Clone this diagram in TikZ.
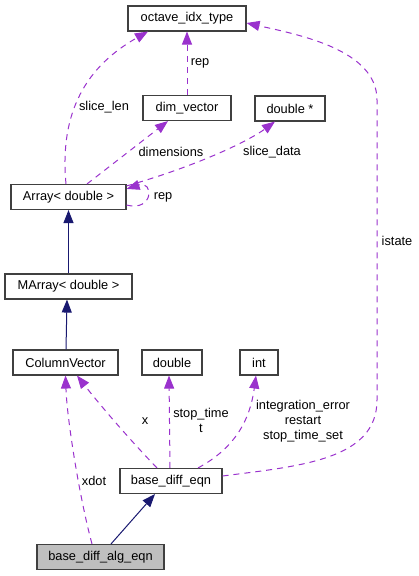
\documentclass[tikz,border=0pt]{standalone}
\usepackage{fontspec}
\setmainfont{Liberation Sans}
\usetikzlibrary{arrows.meta, calc}
\definecolor{doxyedge}{HTML}{9A32CD}
\definecolor{doxyinherit}{HTML}{191970}
\definecolor{doxyframe}{HTML}{404040}
\definecolor{doxyfocus}{HTML}{BFBFBF}

\begin{document}
\begin{tikzpicture}[x=1pt, y=-1pt,
  classbox/.style={draw=doxyframe, line width=1.1pt, fill=white, inner sep=0pt, minimum height=25pt, font=\fontsize{12.8}{15}\selectfont},
  usage/.style={draw=doxyedge, dash pattern=on 6pt off 5pt, line width=1pt, -{Triangle[length=13pt,width=10pt]}},
  inherit/.style={draw=doxyinherit, line width=1pt, -{Triangle[length=13pt,width=10pt]}},
  edgelabel/.style={inner sep=0pt, align=center, font=\fontsize{12.8}{15}\selectfont}]
\useasboundingbox (0,0) rectangle (419,576);

% classes
\node[classbox, minimum width=118pt] (octave) at (187,18.5) {octave\_idx\_type};
\node[classbox, minimum width=88pt] (dimv) at (187,108) {dim\_vector};
\node[classbox, minimum width=70pt] (dbls) at (290,108.5) {double *};
\node[classbox, minimum width=115pt] (arr) at (68.5,197) {Array< double >};
\node[classbox, minimum width=127pt] (marr) at (68.5,286.5) {MArray< double >};
\node[classbox, minimum width=105pt] (colv) at (65.5,362.5) {ColumnVector};
\node[classbox, minimum width=60pt] (dbl) at (172,362.5) {double};
\node[classbox, minimum width=38pt] (int) at (259,362.5) {int};
\node[classbox, minimum width=102pt] (bde) at (171,481) {base\_diff\_eqn};
\node[classbox, minimum width=127pt, fill=doxyfocus] (bdae) at (100.5,557) {base\_diff\_alg\_eqn};

% members
\draw[usage] ($(arr.north)+(-2.5,0)$) .. controls (60,120) and (80,70) .. ($(octave.south)+(-39,0)$);
\draw[usage] (dimv.north) -- (octave.south);
\draw[usage] ($(arr.north)+(18.5,0)$) -- ($(dimv.south)+(-19,0)$);
\draw[usage] ($(arr.north east)+(0,2)$) .. controls (200,165) and (250,140) .. ($(dbls.south)+(-15,0)$);
\draw[usage] ($(arr.south east)+(0,-5)$) .. controls (154,212) and (154,180) .. ($(arr.north east)+(0,5)$);
\draw[usage] ($(bdae.north)+(-8.5,0)$) .. controls (80,500) and (67,420) .. (colv.south);
\draw[usage] ($(bde.north)+(-14,0)$) .. controls (130,440) and (100,405) .. ($(colv.south)+(11.5,0)$);
\draw[usage] ($(bde.north)+(-1,0)$) -- ($(dbl.south)+(-3,0)$);
\draw[usage] ($(bde.north)+(27,0)$) .. controls (235,448) and (250,420) .. ($(int.south)+(-3,0)$);
\draw[usage] ($(bde.east)+(0,-5)$) .. controls (300,466) and (377,460) .. (377,400) -- (377,100) .. controls (377,50) and (300,35) .. ($(octave.east)+(0,4.5)$);

% inheritance
\draw[inherit] (marr.north) -- (arr.south);
\draw[inherit] ($(colv.north)+(0.5,0)$) -- ($(marr.south)+(-1.5,0)$);
\draw[inherit] ($(bdae.north)+(10.5,0)$) -- ($(bde.south)+(-16,0)$);

% labels
\node[edgelabel] (lblslicelen) at (104,107) {slice\_len};
\node[edgelabel] (lblrep) at (200,63) {rep};
\node[edgelabel] (lbldims) at (171,152) {dimensions};
\node[edgelabel] (lblslicedata) at (272,152) {slice\_data};
\node[edgelabel] (lblselfrep) at (163,197) {rep};
\node[edgelabel] (lblistate) at (397,241) {istate};
\node[edgelabel] (lblx) at (145,421) {x};
\node[edgelabel] (lblstop) at (201,420.5) {stop\_time\\t};
\node[edgelabel] (lblint) at (303,421.5) {integration\_error\\restart\\stop\_time\_set};
\node[edgelabel] (lblxdot) at (94,481) {xdot};
\end{tikzpicture}
\end{document}
